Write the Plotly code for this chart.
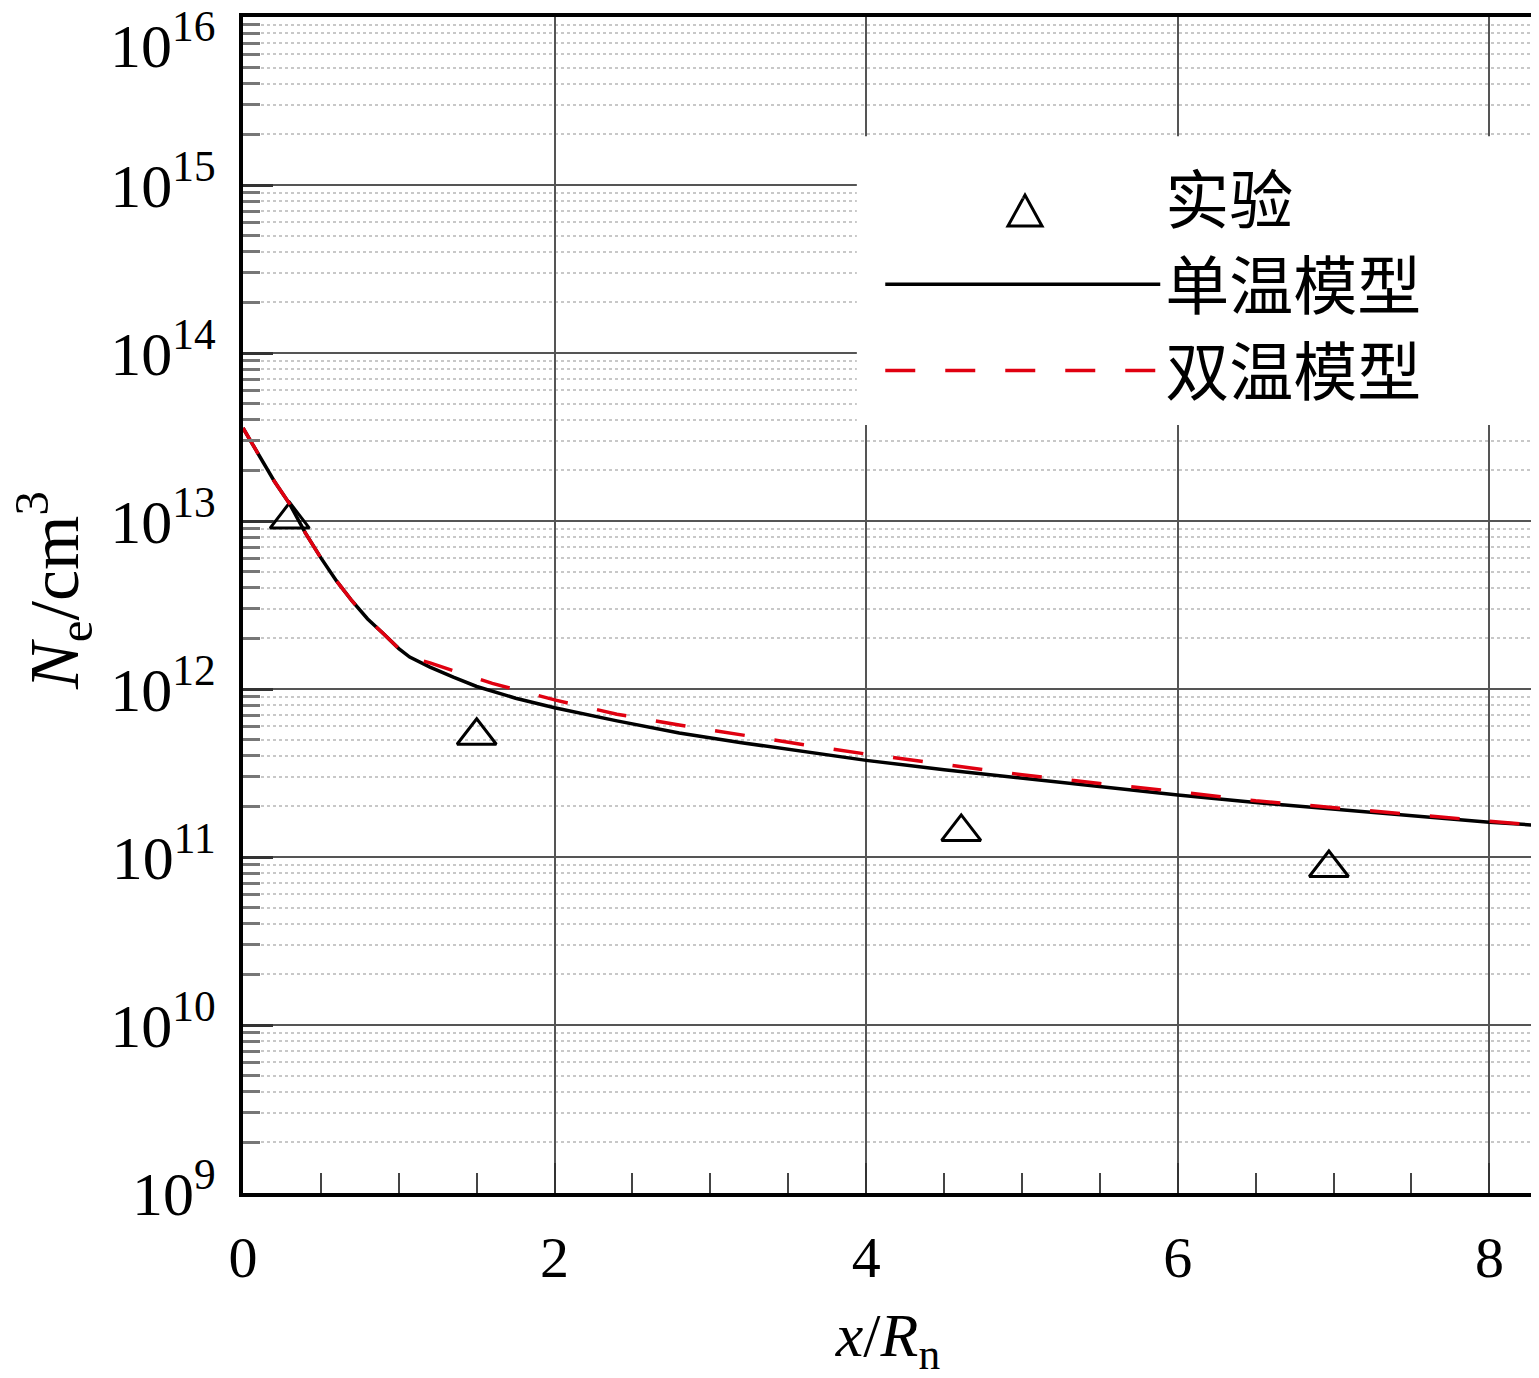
import plotly.graph_objects as go

# ---- data ----
x_single = [0, 0.1, 0.2, 0.3, 0.4, 0.5, 0.6, 0.7, 0.8, 0.9, 1.0, 1.07, 1.2, 1.35, 1.5,
            1.75, 2.0, 2.4, 2.8, 3.2, 3.6, 4.0, 4.5, 5.0, 5.5, 6.0, 6.5, 7.0, 7.5, 8.0, 8.28]
ne_single = [3.58e13, 2.51e13, 1.73e13, 1.26e13, 8.49e12, 6.03e12, 4.40e12, 3.34e12, 2.61e12,
             2.14e12, 1.74e12, 1.55e12, 1.35e12, 1.175e12, 1.035e12, 8.81e11, 7.73e11, 6.46e11,
             5.47e11, 4.79e11, 4.25e11, 3.76e11, 3.31e11, 2.95e11, 2.62e11, 2.34e11, 2.11e11,
             1.93e11, 1.76e11, 1.61e11, 1.55e11]

x_two = [0, 0.1, 0.2, 0.3, 0.4, 0.5, 0.6, 0.7, 0.8, 0.9, 1.0, 1.07, 1.2, 1.4, 1.6, 2.0,
         2.4, 2.8, 3.2, 3.6, 4.0, 4.5, 5.0, 5.5, 6.0, 6.5, 7.0, 7.5, 8.0, 8.28]
ne_two = [3.58e13, 2.51e13, 1.73e13, 1.26e13, 8.49e12, 6.03e12, 4.40e12, 3.34e12, 2.61e12,
          2.14e12, 1.74e12, 1.55e12, 1.43e12, 1.24e12, 1.08e12, 8.61e11, 7.08e11, 6.10e11,
          5.31e11, 4.66e11, 4.10e11, 3.55e11, 3.09e11, 2.74e11, 2.45e11, 2.16e11, 1.97e11,
          1.79e11, 1.63e11, 1.55e11]

x_exp = [0.30, 1.50, 4.61, 6.97]
ne_exp = [1.02e13, 5.27e11, 1.41e11, 8.6e10]

names = ["实验", "单温模型", "双温模型"]
x_ticks = [0, 2, 4, 6, 8]
y_exponents = [9, 10, 11, 12, 13, 14, 15, 16]
x_title = "<i>x</i>/<i>R</i><sub>n</sub>"
y_title = "<i>N</i><sub>e</sub>/cm<sup>3</sup>"

FONT = "Liberation Serif, Times New Roman, Noto Sans CJK SC, serif"
CJK = "Noto Sans CJK SC, Liberation Serif"
RED = "#e00010"
TICK_SIZE = 62

y_tickvals = [10.0 ** e for e in y_exponents]
# top label (10^16) is placed separately so it is not clipped at the figure top
y_ticktext = ["10<sup>%d</sup>" % e for e in y_exponents[:-1]] + [""]

fig = go.Figure()

# experiment points (legend symbol drawn larger separately, since legend caps marker size)
fig.add_trace(go.Scatter(
    x=x_exp, y=ne_exp, mode="markers", name=names[0], showlegend=False,
    marker=dict(symbol="triangle-up-open", size=34, color="black",
                line=dict(width=3, color="black")),
))
fig.add_trace(go.Scatter(
    x=[None], y=[None], mode="markers", name=names[0], showlegend=True,
    marker=dict(symbol="triangle-up-open", size=1, opacity=0, color="white"),
))
fig.add_trace(go.Scatter(
    x=x_single, y=ne_single, mode="lines", name=names[1],
    line=dict(color="black", width=3.5),
))
fig.add_trace(go.Scatter(
    x=x_two, y=ne_two, mode="lines", name=names[2],
    line=dict(color=RED, width=3.5, dash="30px,30px"),
))

# white legend box covering the grid
fig.add_shape(type="rect", xref="x", yref="y",
              x0=3.94, x1=8.28, y0=10 ** 13.571, y1=10 ** 15.29,
              fillcolor="white", line=dict(width=0), layer="between")

# legend triangle symbol for "实验" (paper coordinates)
fig.add_shape(type="path", xref="paper", yref="paper",
              path="M 0.5930,0.8223 L 0.6194,0.8223 L 0.6062,0.8486 Z",
              line=dict(color="black", width=3), fillcolor="rgba(0,0,0,0)")

# top tick label
fig.add_annotation(text="10<sup>%d</sup>" % y_exponents[-1], xref="paper", yref="y",
                   x=0, y=y_exponents[-1], xanchor="right", yanchor="top",
                   xshift=-26, yshift=17, showarrow=False,
                   font=dict(size=TICK_SIZE, family=FONT, color="black"))

# y-axis title (as annotation so it can sit close to the left edge)
fig.add_annotation(text=y_title, xref="paper", yref="paper",
                   x=0, y=0.512, xanchor="center", yanchor="middle",
                   xshift=-189, textangle=-90, showarrow=False,
                   font=dict(size=70, family=FONT, color="black"))

# page body has an 8px margin: shrink figure and margins to compensate
fig.update_layout(
    width=1531, height=1370,
    margin=dict(l=235, r=6, t=9, b=185, autoexpand=False),
    paper_bgcolor="white", plot_bgcolor="white",
    font=dict(family=FONT, size=58, color="black"),
    showlegend=True,
    legend=dict(
        x=0.494, y=0.887, xanchor="left", yanchor="top",
        bgcolor="rgba(0,0,0,0)", borderwidth=0,
        font=dict(family=CJK, size=64, color="black"),
        itemwidth=275, itemsizing="trace", tracegroupgap=0,
    ),
)

fig.update_xaxes(
    range=[0, 8.28], tickvals=x_ticks, ticktext=[str(v) for v in x_ticks],
    ticks="inside", ticklen=30, tickwidth=2, tickcolor="#333",
    showline=True, linecolor="black", linewidth=4, mirror=True,
    showgrid=True, gridcolor="#555", gridwidth=2,
    zeroline=False, automargin=False, ticklabeloverflow="allow",
    ticklabelstandoff=10,
    tickfont=dict(size=58, family=FONT),
    minor=dict(dtick=0.5, tick0=0, ticks="inside", ticklen=20, tickwidth=2,
               tickcolor="#444", showgrid=False),
    title=dict(text=x_title, font=dict(size=62, family=FONT), standoff=30),
)

fig.update_yaxes(
    type="log", range=[8.99999, 16.00001],
    tickvals=y_tickvals, ticktext=y_ticktext,
    ticks="inside", ticklen=30, tickwidth=3, tickcolor="#333",
    showline=True, linecolor="black", linewidth=4, mirror=True,
    showgrid=True, gridcolor="#555", gridwidth=2,
    zeroline=False, automargin=False, ticklabeloverflow="allow",
    ticklabelstandoff=11,
    tickfont=dict(size=TICK_SIZE, family=FONT),
    minor=dict(dtick="D1", ticks="inside", ticklen=17, tickwidth=3,
               tickcolor="#777", showgrid=True, gridcolor="#c8c8c8",
               gridwidth=2, griddash="dot"),
)

fig.write_html("out.html")
